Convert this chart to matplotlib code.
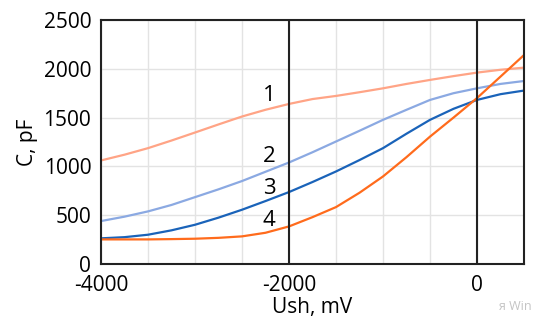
import numpy as np
import matplotlib.pyplot as plt

plt.rcParams['font.family'] = ['Open Sans', 'DejaVu Sans']
plt.rcParams['axes.unicode_minus'] = False

ush = [-4000, -3750, -3500, -3250, -3000, -2750, -2500, -2250, -2000, -1750,
       -1500, -1250, -1000, -750, -500, -250, 0, 250, 500]
c1 = [1061, 1120, 1187, 1265, 1347, 1430, 1511, 1580, 1640, 1690,
      1722, 1760, 1800, 1845, 1886, 1925, 1961, 1990, 2012]
c2 = [440, 485, 539, 605, 685, 765, 850, 945, 1040, 1145,
      1255, 1365, 1477, 1580, 1681, 1750, 1800, 1845, 1875]
c3 = [263, 275, 300, 345, 402, 475, 556, 645, 737, 840,
      948, 1065, 1187, 1335, 1477, 1590, 1681, 1740, 1777]
c4 = [252, 252, 252, 255, 259, 268, 283, 320, 385, 480,
      583, 730, 897, 1095, 1305, 1500, 1700, 1920, 2141]
curves = [c1, c2, c3, c4]
colors = ['#ffa486', '#8ba9e2', '#1a63b9', '#ff6b1c']
labels = ['1', '2', '3', '4']
label_x = -2210
label_y = [1726, 1101, 778, 450]

fig = plt.figure(figsize=(5.5, 3.29), dpi=100)
ax = fig.add_axes([101/550, 1 - 264/329, 423/550, 244/329])

for c, col in zip(curves, colors):
    ax.plot(ush, c, color=col, lw=1.6, solid_joinstyle='round')

for y, t in zip(label_y, labels):
    ax.text(label_x, y, t, fontsize=16, ha='center', va='center')

ax.axvline(-2000, color='#222222', lw=1.5)
ax.axvline(0, color='#222222', lw=1.5)

ax.set_xlim(-4000, 500)
ax.set_ylim(0, 2500)
ax.set_xticks([-4000, -2000, 0])
ax.set_xticks(np.arange(-4000, 501, 500), minor=True)
ax.set_yticks(np.arange(0, 2501, 500))
ax.grid(True, which='both', color='#e3e3e3', lw=1)
ax.set_axisbelow(True)
ax.tick_params(which='both', length=0, labelsize=15)
ax.tick_params(axis='y', pad=7)
ax.tick_params(axis='x', pad=8)
for s in ax.spines.values():
    s.set_color('#222222')
    s.set_linewidth(1.5)

ax.set_xlabel('Ush, mV', fontsize=15, labelpad=1)
ax.set_ylabel('C, pF', fontsize=15, labelpad=4)
fig.text(499/550, 1 - 307/329, 'я Win', fontsize=9, color='#c4c4c4',
         ha='left', va='center')

fig.savefig('out.png', dpi=100)
